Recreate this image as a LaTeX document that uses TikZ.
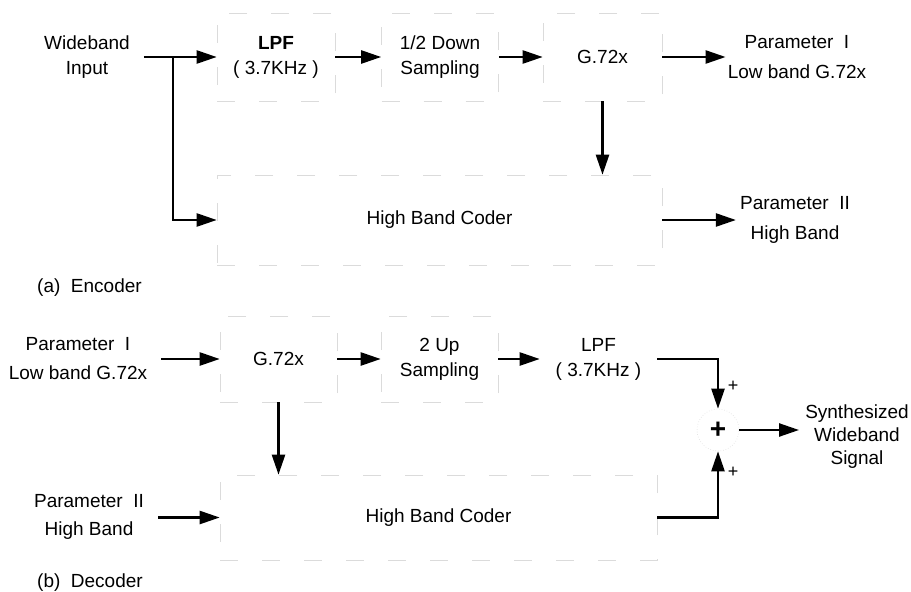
\documentclass[tikz,border=0pt]{standalone}
\usepackage{fontspec}
\setmainfont{Liberation Sans}
\usetikzlibrary{arrows.meta}
\begin{document}
\begin{tikzpicture}[x=1pt,y=-1pt,
  font=\fontsize{19}{25}\selectfont,
  blk/.style={draw=black!14,line width=0.6pt,dash pattern=on 18pt off 24pt,minimum height=88pt,inner sep=0pt,align=center},
  txt/.style={align=center,inner sep=0pt},
  arr/.style={line width=2.4pt,-{Triangle[length=20pt,width=13pt]}},
  ln/.style={line width=2.4pt}]
\useasboundingbox (0,0) rectangle (911,592);
% ---------- Encoder ----------
\node[blk,minimum width=118pt] (lpf) at (276,57) {\textbf{LPF}\\( 3.7KHz )};
\node[blk,minimum width=117pt] (down) at (440,57) {1/2 Down\\Sampling};
\node[blk,minimum width=119pt] (ge) at (602.5,57) {G.72x};
\node[blk,minimum width=445pt,minimum height=90pt] (hbc) at (439.5,220) {High Band Coder};
\node[txt,font=\fontsize{19}{25}\selectfont] (win) at (87,57) {Wideband\\Input};
\node[txt,font=\fontsize{19}{30}\selectfont] (p1) at (797,57) {Parameter\ \ I\\Low band G.72x};
\node[txt,font=\fontsize{19}{30}\selectfont] (p2) at (795,220) {Parameter\ \ II\\High Band};
\node[txt,anchor=west] (enc) at (37,288) {(a)\ \ Encoder};
\coordinate (sp) at (173,57);
\draw[ln] ([xshift=14pt]win.east) -- (sp);
\draw[arr] (sp) -- (lpf.west);
\draw[arr] (sp) |- (hbc.west);
\draw[arr] (lpf.east) -- (down.west);
\draw[arr] (down.east) -- (ge.west);
\draw[arr] (ge.east) -- ([xshift=-2pt]p1.west |- ge.east);
\draw[arr] (ge.south) -- (ge.south |- hbc.north);
\draw[arr] (hbc.east) -- ([xshift=-4pt]p2.west |- hbc.east);
% ---------- Decoder ----------
\node[blk,minimum width=117pt,minimum height=86pt] (gd) at (278.5,359) {G.72x};
\node[blk,minimum width=117pt,minimum height=86pt] (up) at (439.5,359) {2 Up\\Sampling};
\node[blk,minimum width=117pt,minimum height=86pt,draw=none] (lpfd) at (598.5,359) {LPF\\( 3.7KHz )};
\node[blk,minimum width=437pt,minimum height=85pt] (hbcd) at (438.5,517.5) {High Band Coder};
\node[circle,draw=black!14,dotted,line width=0.6pt,minimum size=42pt,inner sep=0pt,font=\fontsize{28}{28}\selectfont\bfseries] (sum) at (718,430) {+};
\node[txt,font=\fontsize{19}{29}\selectfont] (p1d) at (78,359) {Parameter\ \ I\\Low band G.72x};
\node[txt,font=\fontsize{19}{28}\selectfont] (p2d) at (89,517) {Parameter\ \ II\\High Band};
\node[txt,font=\fontsize{19}{23}\selectfont] (out) at (857,437) {Synthesized\\Wideband\\Signal};
\node[txt,font=\fontsize{18}{18}\selectfont] (pa) at (733,386) {+};
\node[txt,font=\fontsize{18}{18}\selectfont] (pb) at (733,472) {+};
\node[txt,anchor=west] (dec) at (37,583) {(b)\ \ Decoder};
\draw[arr] ([xshift=14pt]p1d.east |- gd.west) -- (gd.west);
\draw[arr] (gd.east) -- (up.west);
\draw[arr] (up.east) -- (lpfd.west);
\draw[arr] (lpfd.east) -| (sum.north);
\draw[arr] (hbcd.east) -| (sum.south);
\draw[arr] (sum.east) -- ([xshift=-6pt]out.west |- sum.east);
\draw[arr] (gd.south) -- (gd.south |- hbcd.north);
\draw[arr] ([xshift=14pt]p2d.east |- hbcd.west) -- (hbcd.west);
\end{tikzpicture}
\end{document}
